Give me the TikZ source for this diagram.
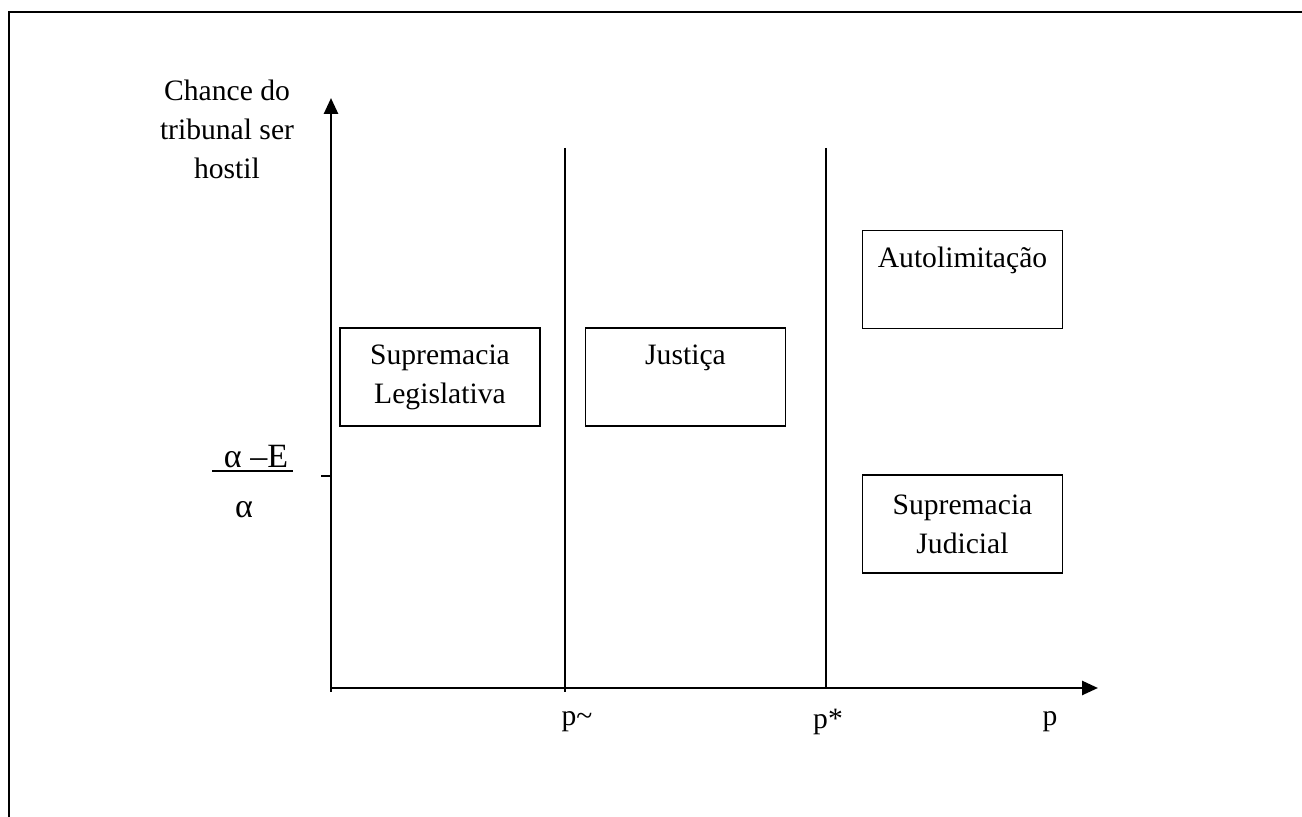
\documentclass[tikz,border=0pt]{standalone}
\usepackage{fontspec}
\setmainfont{Liberation Serif}
\usetikzlibrary{arrows.meta}
\begin{document}
\begin{tikzpicture}[x=0.5pt,y=-0.5pt,
  lbl/.style={font=\fontsize{14.8pt}{19.5pt}\selectfont, align=center, inner sep=0pt},
  regbox/.style={draw, line width=0.9pt, minimum width=100pt, minimum height=49pt, inner sep=0pt},
  axis/.style={line width=1.3pt, -{Triangle[length=8pt,width=7pt]}},
  divider/.style={line width=0.75pt},
  frame/.style={line width=1.2pt}]
\useasboundingbox (0,0) rectangle (1302,817);
% outer frame (top and left edges)
\coordinate (f1) at (9,817);
\coordinate (f2) at (9,12);
\coordinate (f3) at (1302,12);
\draw[frame] (f1) -- (f2) -- (f3);
% axes
\coordinate (ybot) at (331,692);
\coordinate (ytop) at (331,98);
\coordinate (xl) at (331,688);
\coordinate (xr) at (1098,688);
\draw[axis] (ybot) -- (ytop);
\draw[axis] (xl) -- (xr);
% dividers
\coordinate (d1t) at (565,148);
\coordinate (d1b) at (565,692);
\coordinate (d2t) at (826,148);
\coordinate (d2b) at (826,688);
\draw[divider] (d1t) -- (d1b);
\draw[divider] (d2t) -- (d2b);
% tick
\coordinate (t1) at (321,476);
\coordinate (t2) at (331,476);
\draw[line width=0.9pt] (t1) -- (t2);
% y label
\node[lbl] (ylab) at (227,129) {Chance do\\tribunal ser\\hostil};
% fraction
\node[lbl, font=\fontsize{17pt}{20pt}\selectfont] (num) at (256,457) {α –E};
\coordinate (b1) at (212,471);
\coordinate (b2) at (293,471);
\draw[line width=1.3pt] (b1) -- (b2);
\node[lbl, font=\fontsize{17pt}{20pt}\selectfont] (den) at (244,510) {α};
% x labels
\node[lbl] (ptil) at (577,722) {p\char`~};
\node[lbl] (pstar) at (828,722) {p*};
\node[lbl] (plab) at (1050,722) {p};
% boxes
\node[regbox] (sl) at (440,377) {};
\node[lbl] (slt) at (sl.center) {Supremacia\\Legislativa};
\node[regbox] (ju) at (685.5,377) {};
\node[lbl] (jut) at ([yshift=9.75pt]ju.center) {Justiça};
\node[regbox] (au) at (962.5,279.5) {};
\node[lbl] (aut) at ([yshift=9.75pt]au.center) {Autolimitação};
\node[regbox] (sj) at (962.5,524) {};
\node[lbl] (sjt) at (sj.center) {Supremacia\\Judicial};
\end{tikzpicture}
\end{document}
